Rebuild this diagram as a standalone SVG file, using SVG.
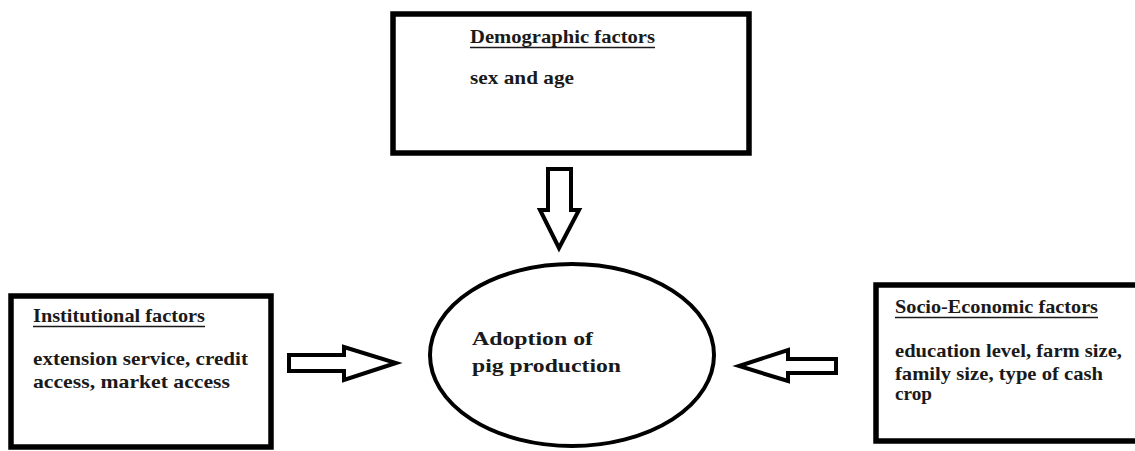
<svg xmlns="http://www.w3.org/2000/svg" width="1135" height="451" viewBox="0 0 1135 451">
<style>
.box{fill:#fff;stroke:#000;stroke-width:5.5}
.arrow{fill:#fff;stroke:#000;stroke-width:4;stroke-linejoin:miter}
.t{font-family:"Liberation Serif","Times New Roman",serif;font-weight:bold;font-size:19px;fill:#1a1a1a}
.ul{stroke:#1a1a1a;stroke-width:1.6}
</style>
<rect width="1135" height="451" fill="#fff"/>
<g id="demographic">
<rect class="box" x="393" y="14" width="356" height="139"/>
<text class="t" x="470" y="43" textLength="185" lengthAdjust="spacingAndGlyphs">Demographic factors</text>
<line class="ul" x1="470" y1="47.5" x2="655" y2="47.5"/>
<text class="t" x="470" y="84" textLength="104" lengthAdjust="spacingAndGlyphs">sex and age</text>
</g>
<g id="institutional">
<rect class="box" x="11" y="296" width="260" height="151"/>
<text class="t" x="33" y="322" textLength="172" lengthAdjust="spacingAndGlyphs">Institutional factors</text>
<line class="ul" x1="33" y1="326.5" x2="205" y2="326.5"/>
<text class="t" x="33" y="365" textLength="215" lengthAdjust="spacingAndGlyphs">extension service, credit</text>
<text class="t" x="33" y="388" textLength="197" lengthAdjust="spacingAndGlyphs">access, market access</text>
</g>
<g id="socioeconomic">
<rect class="box" x="876" y="285" width="270" height="156"/>
<text class="t" x="895" y="313" textLength="203" lengthAdjust="spacingAndGlyphs">Socio-Economic factors</text>
<line class="ul" x1="895" y1="317.5" x2="1098" y2="317.5"/>
<text class="t" x="895" y="357" textLength="227" lengthAdjust="spacingAndGlyphs">education level, farm size,</text>
<text class="t" x="895" y="380" textLength="208" lengthAdjust="spacingAndGlyphs">family size, type of cash</text>
<text class="t" x="895" y="400" textLength="37" lengthAdjust="spacingAndGlyphs">crop</text>
</g>
<g id="adoption">
<ellipse cx="572" cy="355" rx="142" ry="91" fill="#fff" stroke="#000" stroke-width="4"/>
<text class="t" x="472" y="345" textLength="121" lengthAdjust="spacingAndGlyphs">Adoption of</text>
<text class="t" x="472" y="372" textLength="149" lengthAdjust="spacingAndGlyphs">pig production</text>
</g>
<g id="connectors">
<path class="arrow" d="M548 169 H571 V210 H579 L559 248 L540 210 H548 Z"/>
<path class="arrow" d="M289 355 H344 V347 L396 363 L344 380 V371 H289 Z"/>
<path class="arrow" d="M836 359 H788 V350 L739 366 L788 381 V373 H836 Z"/>
</g>
</svg>
